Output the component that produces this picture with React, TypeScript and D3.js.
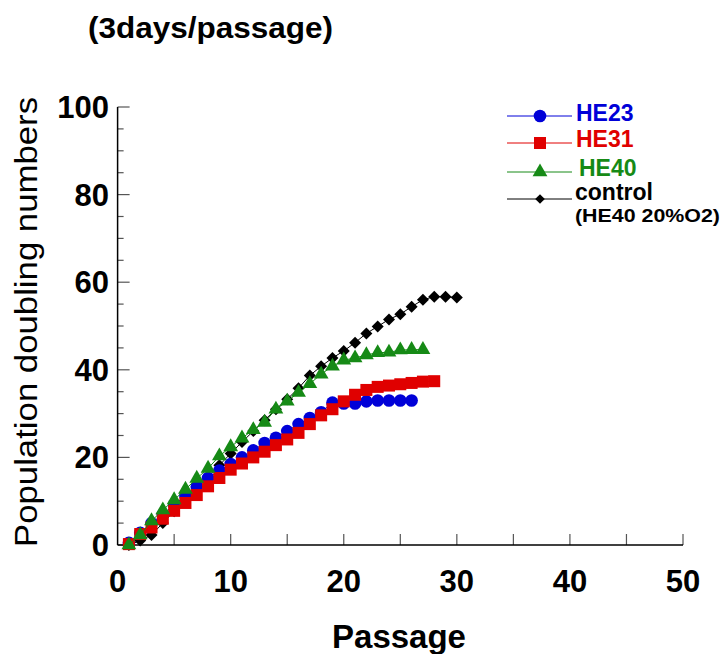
import React from "react";
import * as d3 from "d3";

// population doubling per passage, passage numbers start at 1
const he23 = [0.5, 2.8, 5.0, 7.0, 9.2, 11.2, 13.3, 15.3, 17.0, 18.5, 20.0, 21.6, 23.3, 24.5, 26.0, 27.6, 29.0, 30.3, 32.5, 32.3, 32.3, 32.8, 33.0, 33.0, 33.0, 33.0];
const he31 = [0.2, 2.5, 4.0, 6.0, 7.8, 9.6, 11.4, 13.4, 15.3, 17.2, 18.6, 20.0, 21.3, 22.8, 24.1, 25.6, 27.6, 29.6, 31.0, 32.8, 34.3, 35.4, 36.1, 36.4, 36.7, 37.0, 37.3, 37.4];
const he40 = [0.0, 2.3, 5.5, 8.0, 10.3, 12.7, 15.2, 17.5, 20.3, 22.4, 24.4, 26.3, 28.0, 31.0, 32.8, 34.8, 36.8, 39.0, 40.8, 42.2, 42.7, 43.4, 43.9, 44.0, 44.5, 44.6, 44.6];
const control = [0.0, 1.0, 2.3, 5.0, 7.7, 10.3, 13.0, 15.6, 18.2, 20.9, 23.5, 26.0, 28.5, 31.0, 33.3, 35.8, 38.7, 40.8, 42.7, 44.3, 46.2, 48.3, 49.9, 51.5, 52.7, 54.4, 56.0, 56.7, 56.7, 56.5];

const xTicks = [0, 10, 20, 30, 40, 50];
const yTicks = [0, 20, 40, 60, 80, 100];

const W = 724;
const H = 654;
const FONT = "'Liberation Sans', Arial, Helvetica, sans-serif";

const x = d3.scaleLinear().domain([0, 50]).range([117.6, 683]);
const y = d3.scaleLinear().domain([0, 100]).range([545, 107]);

// drawn bottom to top
const series = [
  { name: "control", values: control, color: "#000000", shape: "diamond" },
  { name: "HE23", values: he23, color: "#0000d8", shape: "circle" },
  { name: "HE31", values: he31, color: "#e00000", shape: "square" },
  { name: "HE40", values: he40, color: "#168a16", shape: "triangle" },
];

function Marker({ shape, cx, cy, color, k = 1 }) {
  if (shape === "circle") return <circle cx={cx} cy={cy} r={6.3 * k} fill={color} />;
  if (shape === "square") {
    const s = 12 * k;
    return <rect x={cx - s / 2} y={cy - s / 2} width={s} height={s} fill={color} />;
  }
  if (shape === "triangle") {
    const p = d3.symbol(d3.symbolTriangle, 95 * k * k)();
    return <path d={p} transform={`translate(${cx},${cy})`} fill={color} />;
  }
  const r = 6 * k;
  return <path d={`M0,${-r}L${r},0L0,${r}L${-r},0Z`} transform={`translate(${cx},${cy})`} fill={color} />;
}

function Chart() {
  const line = d3
    .line()
    .x((d, i) => x(i + 1))
    .y((d) => y(d));

  const legend = [
    { s: series[1], ly: 116, ty: 121, tx: 576 },
    { s: series[2], ly: 143, ty: 147, tx: 576 },
    { s: series[3], ly: 172, ty: 176, tx: 579 },
    { s: series[0], ly: 199, ty: 200, tx: 575 },
  ];

  const y5 = d3.range(0, 101, 5);
  const x5 = d3.range(5, 51, 5);

  return (
    <svg width={W} height={H} style={{ position: "absolute", left: 0, top: 0, background: "#fff" }} fontFamily={FONT}>
      <text x={88} y={38} fontSize={29} fontWeight="bold" textLength={245} lengthAdjust="spacingAndGlyphs">
        (3days/passage)
      </text>

      {/* axes */}
      <g stroke="#555" strokeWidth={1.2}>
        {y5.map((v) => (
          <line key={"yt" + v} x1={x(0)} x2={x(0) + (v % 20 === 0 ? 12 : 6)} y1={y(v)} y2={y(v)} />
        ))}
        {x5.map((v) => (
          <line key={"xt" + v} x1={x(v)} x2={x(v)} y1={y(0)} y2={y(0) - 11} />
        ))}
      </g>
      <line x1={x(0)} x2={x(0)} y1={y(100)} y2={y(0)} stroke="#000" strokeWidth={1.5} />
      <line x1={x(0)} x2={x(50)} y1={y(0)} y2={y(0)} stroke="#000" strokeWidth={1.5} />

      {yTicks.map((v) => (
        <text key={"yl" + v} x={109} y={y(v) + 11} textAnchor="end" fontSize={31} fontWeight="bold">
          {v}
        </text>
      ))}
      {xTicks.map((v) => (
        <text key={"xl" + v} x={x(v)} y={592} textAnchor="middle" fontSize={31} fontWeight="bold">
          {v}
        </text>
      ))}

      <text x={399} y={648} textAnchor="middle" fontSize={33} fontWeight="bold">
        Passage
      </text>
      <text
        transform={`translate(37,322) rotate(-90)`}
        textAnchor="middle"
        fontSize={31}
        textLength={450}
        lengthAdjust="spacingAndGlyphs"
      >
        Population doubling numbers
      </text>

      {/* data */}
      {series.map((s) => (
        <g key={s.name}>
          <path d={line(s.values)} fill="none" stroke={s.color} strokeWidth={1} />
          {s.values.map((v, i) => (
            <Marker key={i} shape={s.shape} cx={x(i + 1)} cy={y(v)} color={s.color} />
          ))}
        </g>
      ))}

      {/* legend */}
      {legend.map(({ s, ly, ty, tx }) => (
        <g key={"lg" + s.name}>
          <line x1={507} x2={572} y1={ly} y2={ly} stroke={s.color} strokeWidth={1} />
          <Marker shape={s.shape} cx={540} cy={ly} color={s.color} k={s.shape === "diamond" ? 0.8 : 1} />
          <text x={tx} y={ty} fontSize={23} fontWeight="bold" fill={s.color}>
            {s.name}
          </text>
        </g>
      ))}
      <text x={575} y={222} fontSize={19} fontWeight="bold" textLength={145} lengthAdjust="spacingAndGlyphs">
        (HE40 20%O2)
      </text>
    </svg>
  );
}

export default function App() {
  return <Chart />;
}
